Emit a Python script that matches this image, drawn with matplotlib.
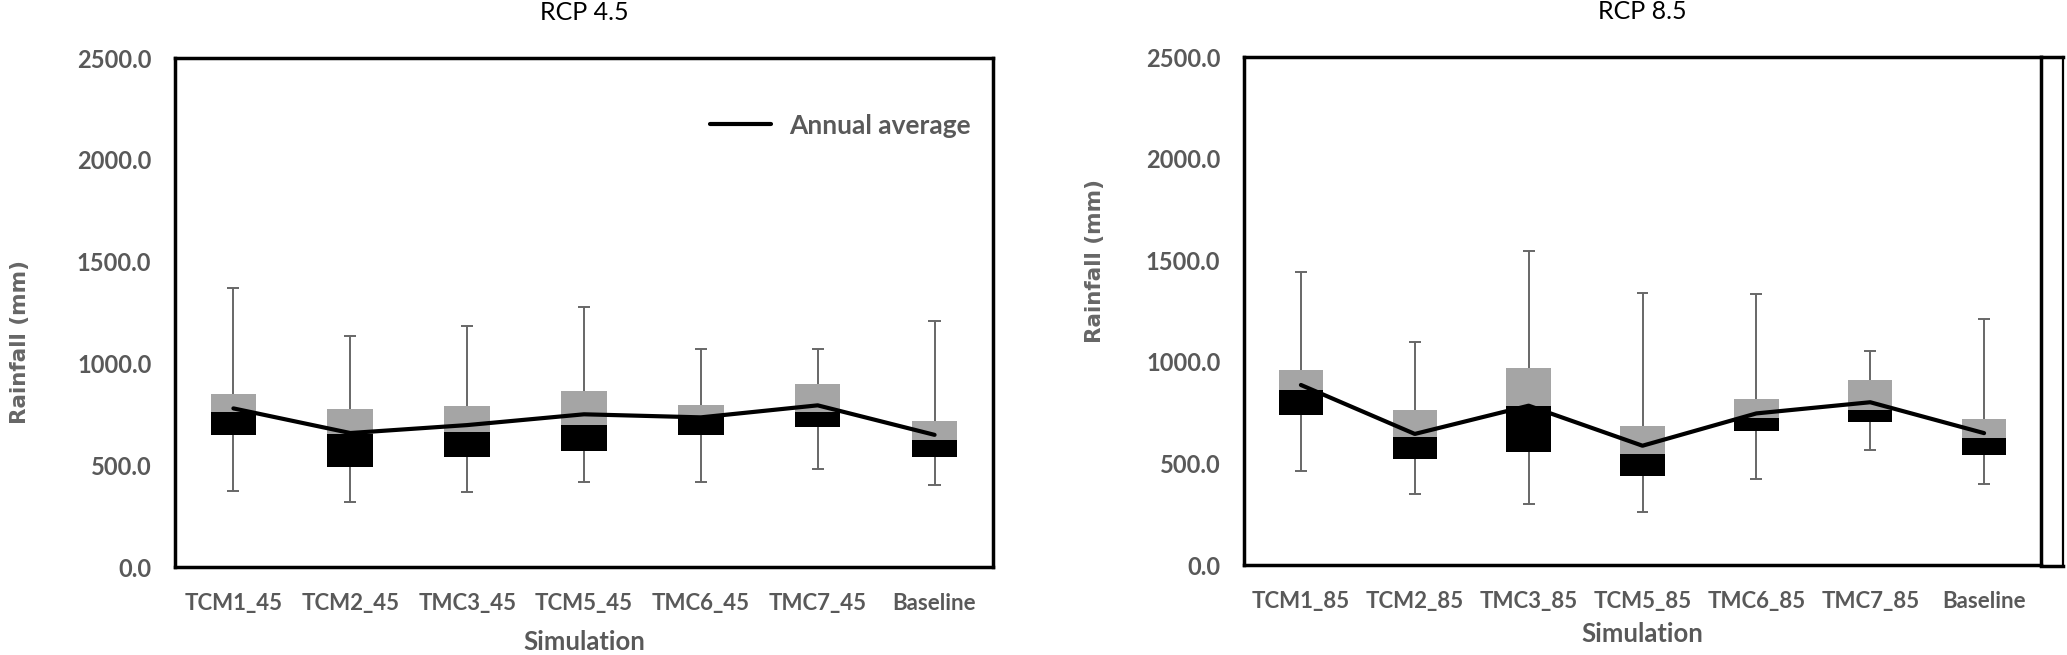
import matplotlib.pyplot as plt
from matplotlib.lines import Line2D

plt.rcParams['font.family'] = ['Lato', 'DejaVu Sans']

# RCP 4.5 simulations
cats_45 = ['TCM1_45', 'TCM2_45', 'TMC3_45', 'TCM5_45', 'TMC6_45', 'TMC7_45', 'Baseline']
max_45 = [1372, 1136, 1182, 1277, 1072, 1069, 1210]
q3_45 = [852, 774, 791, 866, 796, 897, 717]
med_45 = [762, 651, 665, 697, 742, 760, 624]
q1_45 = [648, 491, 542, 570, 647, 686, 542]
min_45 = [374, 318, 370, 417, 416, 480, 401]
avg_45 = [779, 658, 697, 750, 735, 794, 649]

# RCP 8.5 simulations
cats_85 = ['TCM1_85', 'TCM2_85', 'TMC3_85', 'TCM5_85', 'TMC6_85', 'TMC7_85', 'Baseline']
max_85 = [1443, 1099, 1544, 1339, 1332, 1052, 1210]
q3_85 = [958, 764, 971, 683, 815, 910, 717]
med_85 = [861, 628, 781, 544, 723, 763, 624]
q1_85 = [737, 523, 556, 437, 659, 705, 542]
min_85 = [463, 348, 299, 261, 423, 567, 401]
avg_85 = [886, 645, 784, 587, 746, 801, 649]

yticks = [0, 500, 1000, 1500, 2000, 2500]

grey = '#a5a5a5'
txt = '#595959'
whisk = '#676767'

fig = plt.figure(figsize=(20.67, 6.55), dpi=100)
ax1 = fig.add_axes([0.08466, 0.13435, 0.39574, 0.7771])
ax2 = fig.add_axes([0.60184, 0.1374, 0.38558, 0.77557])


def draw_panel(ax, cats, vmax, q3, med, q1, vmin, avg, title):
    x = list(range(len(cats)))
    ax.vlines(x, vmin, vmax, color=whisk, lw=1.4, zorder=1)
    ax.hlines(vmax, [i - 0.052 for i in x], [i + 0.052 for i in x], color=whisk, lw=1.4, zorder=1)
    ax.hlines(vmin, [i - 0.052 for i in x], [i + 0.052 for i in x], color=whisk, lw=1.4, zorder=1)
    ax.bar(x, [m - a for m, a in zip(med, q1)], bottom=q1, width=0.39, color='black', zorder=2)
    ax.bar(x, [b - m for b, m in zip(q3, med)], bottom=med, width=0.39, color=grey, zorder=2)
    ax.plot(x, avg, color='black', lw=3, solid_capstyle='round', zorder=3, label='Annual average')

    ax.set_xlim(-0.5, len(cats) - 0.5)
    ax.set_ylim(0, 2500)
    ax.set_xticks(x)
    ax.set_xticklabels(cats)
    ax.set_yticks(yticks)
    ax.set_yticklabels(['%.1f' % v for v in yticks])
    ax.tick_params(length=0, colors=txt)
    ax.tick_params(axis='y', pad=17, labelsize=17)
    ax.tick_params(axis='x', pad=19, labelsize=16)
    for lab in ax.get_xticklabels() + ax.get_yticklabels():
        lab.set_fontweight('bold')
    for sp in ax.spines.values():
        sp.set_linewidth(2.5)
        sp.set_color('black')

    ax.set_ylabel('Rainfall (mm)', family='DejaVu Sans', fontweight='bold',
                  fontsize=15.5, color='#666666')
    ax.set_xlabel('Simulation', fontweight='bold', fontsize=18.5, color=txt)
    ax.text(0.5, 1.089, title, transform=ax.transAxes, ha='center', va='center',
            fontsize=18, color='black')


draw_panel(ax1, cats_45, max_45, q3_45, med_45, q1_45, min_45, avg_45, 'RCP 4.5')
draw_panel(ax2, cats_85, max_85, q3_85, med_85, q1_85, min_85, avg_85, 'RCP 8.5')

ax1.yaxis.set_label_coords(-0.177, 0.442)
ax2.yaxis.set_label_coords(-0.174, 0.598)
ax1.xaxis.set_label_coords(0.5, -0.124)
ax2.xaxis.set_label_coords(0.5, -0.112)

ax1.legend(loc='center left', bbox_to_anchor=(0.638, 0.867), frameon=False,
           borderpad=0, handlelength=2.3, handletextpad=0.7,
           prop={'weight': 'bold', 'size': 19}, labelcolor=txt)

# outer chart frame on the right of the RCP 8.5 panel
xa = 2041 / 2067
xb = 2063 / 2067
yt = 1 - 57 / 655
yb = 1 - 566 / 655
fig.add_artist(Line2D([xa, xb], [yt, yt], color='black', lw=2.5, transform=fig.transFigure))
fig.add_artist(Line2D([xa, xb], [yb, yb], color='black', lw=2.5, transform=fig.transFigure))
fig.add_artist(Line2D([xb, xb], [yt, yb], color='black', lw=1.6, transform=fig.transFigure))

fig.savefig('out.png', dpi=100)
